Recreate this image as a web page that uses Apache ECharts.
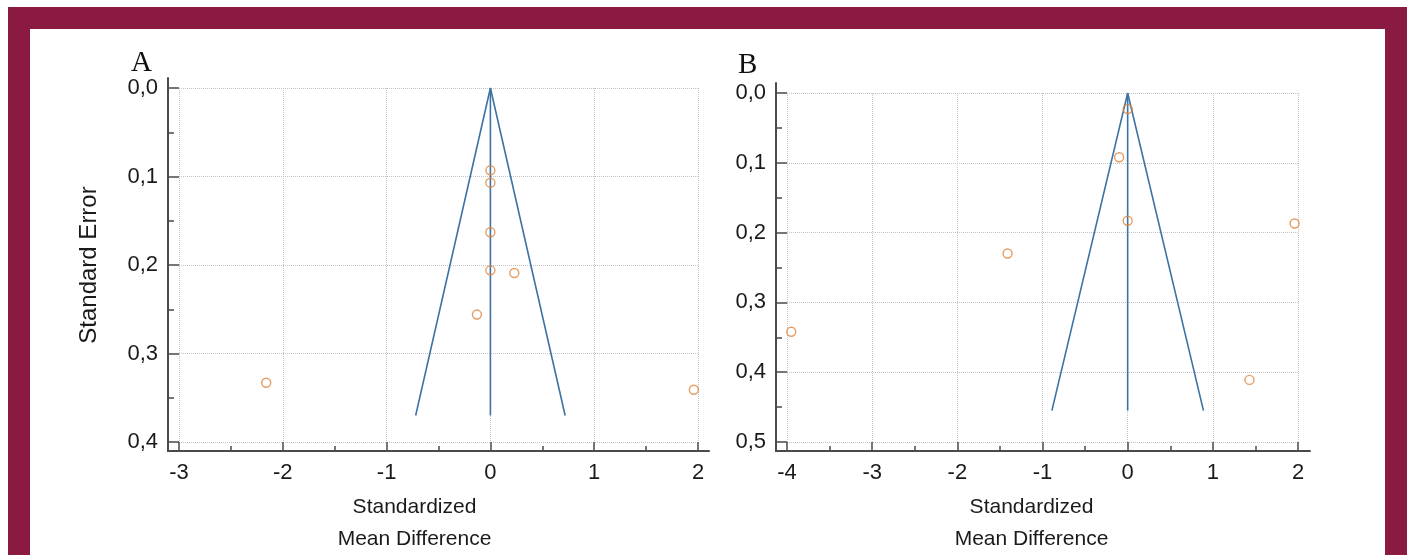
<!DOCTYPE html>
<title>funnel plots</title>
<style>
body {
    margin: 0;
    background: #fff;
}
#frame {
    position: absolute;
    left: 8px;
    top: 7px;
    width: 1355px;
    height: 526px;
    border: 22px solid #8b1a43;
    border-bottom: none;
}
#echart {
    position: absolute;
    left: 0;
    top: 0;
    width: 1410px;
    height: 555px;
}
</style>
<div id='frame'></div>
<div id='echart'></div>
<script src='https://cdn.jsdelivr.net/npm/echarts@6.0.0/dist/echarts.min.js'></script>
<script>
// panel A: standardized mean difference vs standard error
let A_SMD = [0, 0, 0, 0, 0.23, -0.13, -2.16, 1.96]
let A_SE = [0.093, 0.107, 0.163, 0.206, 0.209, 0.256, 0.333, 0.341]
// panel B
let B_SMD = [0, -0.10, 0, 1.96, -1.41, -3.95, 1.43]
let B_SE = [0.023, 0.092, 0.183, 0.187, 0.230, 0.342, 0.411]
// funnel outlines (smd, se) and the mean line
let A_FUNNEL = [[-0.72, 0.37], [0, 0], [0.72, 0.37]]
let A_MEAN = [[0, 0], [0, 0.37]]
let B_FUNNEL = [[-0.89, 0.455], [0, 0], [0.89, 0.455]]
let B_MEAN = [[0, 0], [0, 0.455]]
// axis ranges
let A_X = [-3, 2]
let A_Y = [0, 0.4]
let B_X = [-4, 2]
let B_Y = [0, 0.5]
let X_NAME = 'Standardized\nMean Difference'
let Y_NAME = 'Standard Error'

let FONT = 'Liberation Sans'
let AXIS_COLOR = '#4a4a4a'
let GRID_COLOR = '#c4c4c4'
let POINT_COLOR = '#e0843c'
let FUNNEL_COLOR = '#3d72a4'

let zip = (xs, ys) => xs.map((x, i) => [x, ys[i]])
let tick_style = {color: AXIS_COLOR, width: 1.5}
let split_style = {show: true, lineStyle: {color: GRID_COLOR, type: 'dotted', width: 1}}

function x_axis(grid, range, name_shift) {
    return {
        type: 'value', gridIndex: grid, position: 'bottom', min: range[0], max: range[1], interval: 1, offset: 9,
        axisLine: {show: false, onZero: false},
        axisTick: {inside: true, length: 9, lineStyle: tick_style},
        minorTick: {show: true, splitNumber: 2, length: 5, lineStyle: tick_style},
        axisLabel: {margin: 3, fontFamily: FONT, fontSize: 22, color: '#1a1a1a'},
        splitLine: split_style,
        name: X_NAME, nameLocation: 'middle', nameGap: 40, nameMoveOverlap: false,
        nameTextStyle: {fontFamily: FONT, fontSize: 21, lineHeight: 32, color: '#1a1a1a', padding: [0, name_shift * 2, 0, 0]},
    }
}
function y_axis(grid, range, offset, name) {
    return {
        type: 'value', gridIndex: grid, position: 'left', inverse: true, min: range[0], max: range[1], interval: 0.1, offset,
        axisLine: {show: false, onZero: false},
        axisTick: {inside: true, length: offset, lineStyle: tick_style},
        minorTick: {show: true, splitNumber: 2, length: 6, lineStyle: tick_style},
        axisLabel: {margin: 10, fontFamily: FONT, fontSize: 22, color: '#1a1a1a', formatter: v => v.toFixed(1).replace('.', ',')},
        splitLine: split_style,
        name, nameLocation: 'middle', nameGap: 58, nameMoveOverlap: false,
        nameTextStyle: {fontFamily: FONT, fontSize: 24, color: '#1a1a1a'},
    }
}
function frame_axis(grid, position) {
    return {
        type: 'value', gridIndex: grid, position, min: 0, max: 1,
        axisLine: {onZero: false, lineStyle: {color: AXIS_COLOR, width: 2}},
        axisTick: {show: false}, axisLabel: {show: false}, splitLine: {show: false},
    }
}
let points = (data, x, y) => ({
    type: 'scatter', xAxisIndex: x, yAxisIndex: y, data, symbol: 'circle', symbolSize: 9, z: 5,
    itemStyle: {color: 'rgba(255,255,255,0)', borderColor: POINT_COLOR, borderWidth: 1.4},
})
let line = (data, x, y) => ({
    type: 'line', xAxisIndex: x, yAxisIndex: y, data, showSymbol: false, z: 3,
    lineStyle: {color: FUNNEL_COLOR, width: 1.6},
})
let label = (text, left, top) => ({
    text, left, top, padding: 0,
    textStyle: {fontFamily: 'Liberation Serif', fontSize: 29, fontWeight: 'normal', color: '#111'},
})
let grid = (left, top, width, height) => ({left, top, width, height, outerBoundsMode: 'none'})

let echart = echarts.init(document.querySelector('#echart'))
echart.setOption({
    animation: false,
    title: [label('A', 131, 41), label('B', 738, 43)],
    grid: [
        grid(179, 88, 519, 354),
        grid(168, 78, 541, 373),
        grid(787, 93, 511, 349),
        grid(776, 83, 534, 368),
    ],
    xAxis: [x_axis(0, A_X, 24), frame_axis(1, 'bottom'), x_axis(2, B_X, 11), frame_axis(3, 'bottom')],
    yAxis: [y_axis(0, A_Y, 11, Y_NAME), frame_axis(1, 'left'), y_axis(2, B_Y, 11, ''), frame_axis(3, 'left')],
    series: [
        line(A_FUNNEL, 0, 0),
        line(A_MEAN, 0, 0),
        points(zip(A_SMD, A_SE), 0, 0),
        line(B_FUNNEL, 2, 2),
        line(B_MEAN, 2, 2),
        points(zip(B_SMD, B_SE), 2, 2),
    ],
})
addEventListener('resize', function (event) {echart.resize()})
</script>
